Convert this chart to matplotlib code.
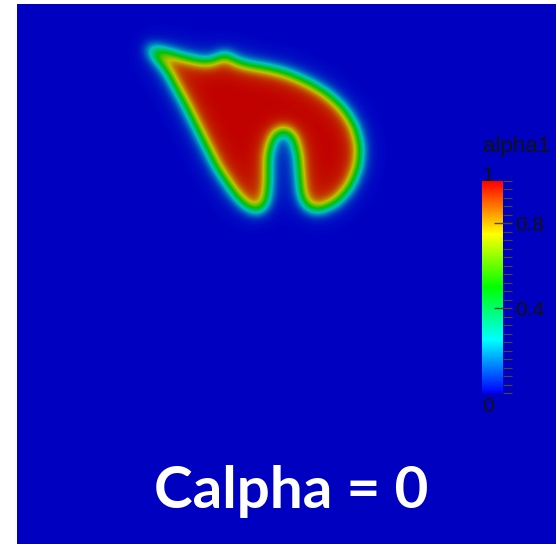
import numpy as np
import matplotlib
matplotlib.use("Agg")
import matplotlib.pyplot as plt
from matplotlib.path import Path
from matplotlib.colors import LinearSegmentedColormap, Normalize, hsv_to_rgb
from matplotlib.cm import ScalarMappable
from matplotlib.ticker import MultipleLocator

# outline of the alpha1 = 0.5 contour, in image pixels (x, y)
blob_x = [146.7, 166.7, 186.7, 206.7, 216.7, 221.7, 228.3, 233.3, 246.7, 266.7,
          286.7, 306.7, 326.7, 343.3, 355.0, 360.0, 358.3, 350.0, 336.7, 320.0,
          308.3, 301.7, 300.0, 298.3, 293.3, 283.3, 273.3, 268.3, 268.3, 266.7,
          260.0, 246.7, 233.3, 216.7, 200.0, 183.3, 166.7, 150.0]
blob_y = [46.0, 51.7, 58.3, 62.7, 60.0, 55.0, 55.0, 60.7, 65.0, 68.3,
          73.3, 81.7, 93.3, 108.3, 126.7, 146.7, 166.7, 186.7, 201.7, 210.0,
          208.3, 196.7, 176.7, 153.3, 135.0, 128.3, 135.0, 153.3, 176.7, 200.0,
          211.7, 206.7, 191.7, 166.7, 133.3, 100.0, 70.0, 51.7]

cbar_ticks = [0.4, 0.8]
cbar_title = "alpha1"
caption = "Calpha = 0"

W, H = 556, 544
x0, y0 = 17, 4  # start of the rendered view

# blue-to-red rainbow (HSV interpolation), like ParaView
hues = np.linspace(2 / 3, 0, 256)
rgb = hsv_to_rgb(np.stack([hues, np.ones(256), np.ones(256)], axis=1))
cmap_bar = LinearSegmentedColormap.from_list("rainbow_bar", rgb)
cmap_field = LinearSegmentedColormap.from_list("rainbow_field", rgb * 0.76)

# field: blurred indicator of the blob
xs = np.arange(x0, W) + 0.5
ys = np.arange(y0, H) + 0.5
XX, YY = np.meshgrid(xs, ys)
poly = Path(np.column_stack([blob_x, blob_y]))
mask = poly.contains_points(np.column_stack([XX.ravel(), YY.ravel()])).reshape(XX.shape).astype(float)


def blur(a, sigma):
    r = int(3 * sigma)
    k = np.exp(-0.5 * (np.arange(-r, r + 1) / sigma) ** 2)
    k /= k.sum()
    a = np.apply_along_axis(lambda v: np.convolve(v, k, mode="same"), 0, a)
    a = np.apply_along_axis(lambda v: np.convolve(v, k, mode="same"), 1, a)
    return a


alpha = 0.8 * blur(mask, 6) + 0.2 * blur(mask, 14)
alpha = np.clip(alpha, 0, 1)

fig = plt.figure(figsize=(W / 100, H / 100), dpi=100)
ax = fig.add_axes([x0 / W, 0, (W - x0) / W, (H - y0) / H])
ax.imshow(alpha, cmap=cmap_field, vmin=0, vmax=1, extent=[x0, W, H, y0],
          interpolation="bilinear", aspect="auto")
ax.set_xlim(x0, W)
ax.set_ylim(H, y0)
ax.axis("off")

ax.text(291, 508, caption, ha="center", va="baseline", color="white",
        fontsize=42, fontweight="bold", family="Lato")

# colorbar
cb_l, cb_r, cb_t, cb_b = 482, 503, 181, 393
cax = fig.add_axes([cb_l / W, 1 - cb_b / H, (cb_r - cb_l) / W, (cb_b - cb_t) / H])
cb = fig.colorbar(ScalarMappable(Normalize(0, 1), cmap_bar), cax=cax)
cb.outline.set_visible(False)
cb.set_ticks(cbar_ticks)
cb.ax.yaxis.set_minor_locator(MultipleLocator(0.04))
cb.ax.tick_params(which="major", direction="inout", length=13, width=1,
                  color="#4a4a30", labelsize=15, labelcolor="#111111", pad=2)
cb.ax.tick_params(which="minor", direction="out", length=6.5, width=0.8,
                  color="#4a4a30")
for lab in cb.ax.get_yticklabels():
    lab.set_family("Liberation Sans")
cb.ax.text(0, 1.0, "1", transform=cb.ax.transAxes, ha="left", va="baseline",
           fontsize=15, color="#111111", family="Liberation Sans")
cb.ax.text(0, -0.02, "0", transform=cb.ax.transAxes, ha="left", va="top",
           fontsize=15, color="#111111", family="Liberation Sans")
cb.ax.text(0.05, 1.135, cbar_title, transform=cb.ax.transAxes, ha="left", va="baseline",
           fontsize=16, color="#111111", family="Liberation Sans")

fig.savefig("out.png", dpi=100)
